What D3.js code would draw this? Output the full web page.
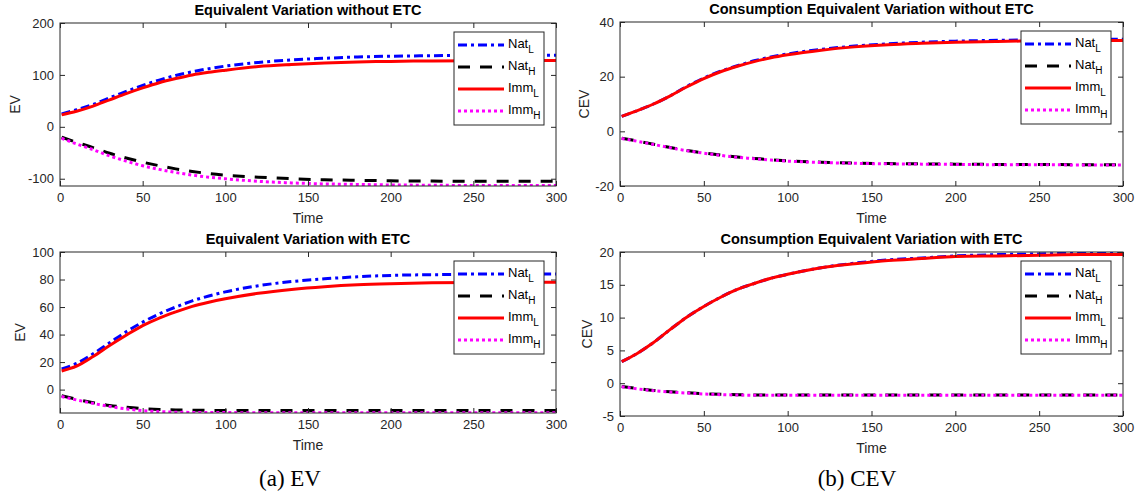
<!DOCTYPE html>
<html>
<head>
<meta charset="utf-8">
<script src="https://cdnjs.cloudflare.com/ajax/libs/d3/7.8.5/d3.min.js"></script>
<style>
	body { margin: 0; background: #fff; }
	svg { display: block; }
	.tick text { font-family: "Liberation Sans", Arial, sans-serif; font-size: 13px; fill: #262626; }
	.domain, .tick line { stroke: #262626; }
</style>
</head>
<body>
<div id="chart"></div>
<script>

//////////////////////////////////////////////////////////////
//////////////////////////// Data ////////////////////////////
//////////////////////////////////////////////////////////////

var time = [1, 10, 20, 30, 40, 50, 60, 70, 80, 90, 100, 120, 140, 160, 180, 200, 225, 250, 275, 300];
var seriesNames = ["Nat", "Nat", "Imm", "Imm"];
var seriesSubs = ["L", "H", "L", "H"];
var xTicks = [0, 50, 100, 150, 200, 250, 300];

//EV without ETC
var ev0_natL = [25, 33, 43, 56, 68, 80, 90, 99, 106, 112, 117, 124, 129, 132, 134.5, 136, 137, 137.5, 138, 138];
var ev0_natH = [-20, -30, -40, -51, -60, -68, -75, -81, -86, -90, -93, -97, -100, -102, -103, -104, -104.5, -105, -105, -105];
var ev0_immL = [23, 30, 40, 52, 64, 75, 85, 93, 100, 105, 109, 116, 120, 123, 125, 126, 127, 127.5, 128, 128];
var ev0_immH = [-22, -33, -44, -56, -66, -75, -82, -88, -93, -97, -100, -105, -108, -110, -111, -112, -112.5, -113, -113, -113];

//CEV without ETC
var cev0_natL = [5.5, 7.5, 10, 13, 16.5, 19.5, 22, 24, 25.8, 27.2, 28.3, 30, 31.2, 32, 32.6, 33, 33.3, 33.5, 33.6, 33.7];
var cev0_natH = [-2.5, -3.5, -4.7, -5.9, -7, -7.9, -8.7, -9.4, -9.9, -10.4, -10.8, -11.3, -11.6, -11.8, -11.9, -12, -12.1, -12.1, -12.2, -12.2];
var cev0_immL = [5.5, 7.5, 10, 13, 16.3, 19.3, 21.8, 23.8, 25.5, 26.9, 28, 29.7, 30.9, 31.7, 32.2, 32.6, 32.9, 33.1, 33.2, 33.2];
var cev0_immH = [-2.6, -3.6, -4.8, -6, -7.1, -8, -8.8, -9.5, -10, -10.5, -10.9, -11.4, -11.7, -11.9, -12, -12.1, -12.2, -12.2, -12.3, -12.3];

//EV with ETC
var ev1_natL = [15, 19, 26, 34, 42, 49, 55, 60, 64.5, 68, 71, 75.5, 78.5, 80.5, 82, 83, 83.5, 83.8, 84, 84];
var ev1_natH = [-4.5, -7, -9.5, -11.5, -12.8, -13.8, -14.4, -14.8, -15, -15.1, -15.1, -15.2, -15.2, -15.2, -15.2, -15.2, -15.2, -15.2, -15.2, -15.2];
var ev1_immL = [13.5, 17, 24, 32, 39.5, 46.5, 52, 56.5, 60.5, 63.5, 66, 70, 72.8, 74.8, 76.2, 77, 77.6, 77.9, 78, 78];
var ev1_immH = [-5, -7.5, -10, -12.3, -14, -15.3, -16, -16.4, -16.6, -16.7, -16.7, -16.8, -16.8, -16.8, -16.8, -16.8, -16.8, -16.8, -16.8, -16.8];

//CEV with ETC
var cev1_natL = [3.3, 4.5, 6.2, 8.2, 10.1, 11.7, 13.1, 14.3, 15.2, 16, 16.6, 17.6, 18.3, 18.8, 19.1, 19.4, 19.6, 19.7, 19.8, 19.8];
var cev1_natH = [-0.5, -0.8, -1.1, -1.3, -1.45, -1.6, -1.7, -1.75, -1.8, -1.8, -1.8, -1.8, -1.8, -1.8, -1.8, -1.8, -1.8, -1.8, -1.8, -1.8];
var cev1_immL = [3.3, 4.5, 6.2, 8.2, 10.1, 11.7, 13.1, 14.3, 15.2, 16, 16.6, 17.6, 18.2, 18.7, 19, 19.3, 19.4, 19.5, 19.6, 19.6];
var cev1_immH = [-0.55, -0.85, -1.15, -1.35, -1.5, -1.65, -1.75, -1.8, -1.85, -1.85, -1.85, -1.85, -1.85, -1.85, -1.85, -1.85, -1.85, -1.85, -1.85, -1.85];

var ev0_yTicks = [-100, 0, 100, 200];
var cev0_yTicks = [-20, 0, 20, 40];
var ev1_yTicks = [0, 20, 40, 60, 80, 100];
var cev1_yTicks = [-5, 0, 5, 10, 15, 20];

//////////////////////////////////////////////////////////////
/////////////////////////// Setup ////////////////////////////
//////////////////////////////////////////////////////////////

var width = 1137, height = 495;

var svg = d3.select("#chart").append("svg")
	.attr("width", width)
	.attr("height", height);

var defs = svg.append("defs");

var styles = [
	{color: "#0000ff", dash: "9,4,3,4"},
	{color: "#000000", dash: "12,10"},
	{color: "#ff0000", dash: null},
	{color: "#ff00ff", dash: "3,3"}
];

var panels = [
	{title: "Equivalent Variation without ETC", ylabel: "EV", series: [ev0_natL, ev0_natH, ev0_immL, ev0_immH],
		yDomain: [-114, 200], yTicks: ev0_yTicks, left: 60, right: 556, top: 23, bottom: 186, ylabX: 15},
	{title: "Consumption Equivalent Variation without ETC", ylabel: "CEV", series: [cev0_natL, cev0_natH, cev0_immL, cev0_immH],
		yDomain: [-20, 40], yTicks: cev0_yTicks, left: 620, right: 1123, top: 22, bottom: 186, ylabX: 584},
	{title: "Equivalent Variation with ETC", ylabel: "EV", series: [ev1_natL, ev1_natH, ev1_immL, ev1_immH],
		yDomain: [-17, 100], yTicks: ev1_yTicks, left: 60, right: 556, top: 252, bottom: 413, ylabX: 20},
	{title: "Consumption Equivalent Variation with ETC", ylabel: "CEV", series: [cev1_natL, cev1_natH, cev1_immL, cev1_immH],
		yDomain: [-5, 20], yTicks: cev1_yTicks, left: 620, right: 1123, top: 252, bottom: 416, ylabX: 587}
];

var font = "'Liberation Sans', Arial, sans-serif";

//////////////////////////////////////////////////////////////
/////////////////////////// Panels ///////////////////////////
//////////////////////////////////////////////////////////////

panels.forEach(function(p, pi) {

	var x = d3.scaleLinear().domain([0, 300]).range([p.left, p.right]);
	var y = d3.scaleLinear().domain(p.yDomain).range([p.bottom, p.top]);

	var g = svg.append("g");

	defs.append("clipPath")
		.attr("id", "clip" + pi)
		.append("rect")
		.attr("x", p.left).attr("y", p.top)
		.attr("width", p.right - p.left).attr("height", p.bottom - p.top);

	//Lines
	var line = d3.line()
		.x(function(d, i) { return x(time[i]); })
		.y(function(d) { return y(d); })
		.curve(d3.curveMonotoneX);

	var lineWrapper = g.append("g").attr("clip-path", "url(#clip" + pi + ")");
	p.series.forEach(function(s, si) {
		lineWrapper.append("path")
			.attr("d", line(s))
			.style("fill", "none")
			.style("stroke", styles[si].color)
			.style("stroke-width", 3)
			.style("stroke-dasharray", styles[si].dash);
	});

	//Axes
	var fmt = function(d) { return String(d); };
	g.append("g").attr("transform", "translate(0," + p.bottom + ")")
		.call(d3.axisBottom(x).tickValues(xTicks).tickSize(-5).tickPadding(7).tickFormat(fmt));
	g.append("g").attr("transform", "translate(0," + p.top + ")")
		.call(d3.axisTop(x).tickValues(xTicks).tickSize(-5).tickFormat(""));
	g.append("g").attr("transform", "translate(" + p.left + ",0)")
		.call(d3.axisLeft(y).tickValues(p.yTicks).tickSize(-5).tickPadding(6).tickFormat(fmt));
	g.append("g").attr("transform", "translate(" + p.right + ",0)")
		.call(d3.axisRight(y).tickValues(p.yTicks).tickSize(-5).tickFormat(""));
	g.selectAll(".domain").remove();

	g.append("rect")
		.attr("x", p.left).attr("y", p.top)
		.attr("width", p.right - p.left).attr("height", p.bottom - p.top)
		.style("fill", "none").style("stroke", "#262626").style("stroke-width", 1);

	//Title
	g.append("text")
		.attr("x", (p.left + p.right) / 2).attr("y", p.top - 8)
		.attr("text-anchor", "middle")
		.style("font-family", font).style("font-size", "14.5px").style("font-weight", "bold")
		.text(p.title);

	//Axis labels
	g.append("text")
		.attr("x", (p.left + p.right) / 2).attr("y", p.bottom + 37)
		.attr("text-anchor", "middle")
		.style("font-family", font).style("font-size", "14px").style("fill", "#262626")
		.text("Time");

	g.append("text")
		.attr("transform", "translate(" + (p.ylabX + 5) + "," + ((p.top + p.bottom) / 2) + ") rotate(-90)")
		.attr("text-anchor", "middle")
		.style("font-family", font).style("font-size", "14px").style("fill", "#262626")
		.text(p.ylabel);

	//Legend
	var lx = p.right - 102, ly = p.top + 9;
	var legend = g.append("g").attr("transform", "translate(" + lx + "," + ly + ")");
	legend.append("rect")
		.attr("width", 90).attr("height", 93)
		.style("fill", "#fff").style("stroke", "#262626").style("stroke-width", 1);

	seriesNames.forEach(function(name, si) {
		var yy = 13 + si * 22;
		legend.append("line")
			.attr("x1", 4).attr("x2", 50).attr("y1", yy).attr("y2", yy)
			.style("stroke", styles[si].color)
			.style("stroke-width", 3)
			.style("stroke-dasharray", styles[si].dash);
		var t = legend.append("text")
			.attr("x", 54).attr("y", yy + 3)
			.style("font-family", font).style("font-size", "13px").style("fill", "#000");
		t.append("tspan").text(name);
		t.append("tspan").attr("dy", 5).style("font-size", "10px").text(seriesSubs[si]);
	});

});

//Captions
var captions = [{text: "(a) EV", x: 290}, {text: "(b) CEV", x: 857}];
svg.selectAll(".caption")
	.data(captions)
	.enter().append("text")
	.attr("class", "caption")
	.attr("x", function(d) { return d.x; })
	.attr("y", 486)
	.attr("text-anchor", "middle")
	.style("font-family", "'Liberation Serif', 'DejaVu Serif', serif")
	.style("font-size", "23px")
	.text(function(d) { return d.text; });

</script>
</body>
</html>
